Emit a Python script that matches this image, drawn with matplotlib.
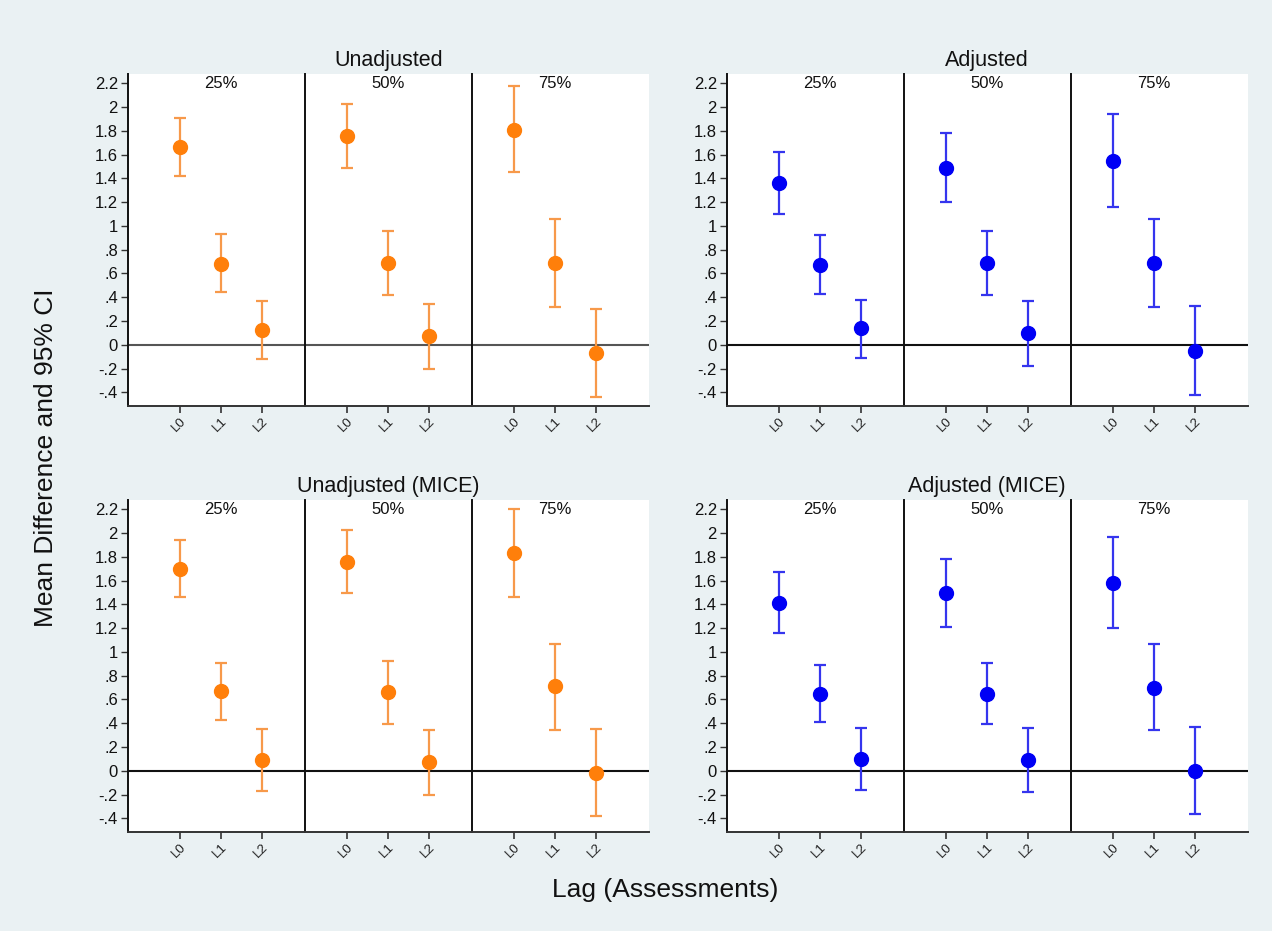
import numpy as np
import matplotlib
matplotlib.use("Agg")
import matplotlib.pyplot as plt

plt.rcParams['font.family'] = ['Liberation Sans', 'DejaVu Sans']

# panel titles, percentiles and lag labels
titles = ['Unadjusted', 'Adjusted', 'Unadjusted (MICE)', 'Adjusted (MICE)']
pcts = ['25%', '50%', '75%']
lags = ['L0', 'L1', 'L2']
yticks = [-0.4, -0.2, 0, 0.2, 0.4, 0.6, 0.8, 1, 1.2, 1.4, 1.6, 1.8, 2, 2.2]
ytick_labels = ['-.4', '-.2', '0', '.2', '.4', '.6', '.8', '1',
                '1.2', '1.4', '1.6', '1.8', '2', '2.2']

# mean difference, lower and upper 95% CI (rows = 25/50/75%, cols = L0/L1/L2)
unadj_est = [[1.66, 0.68, 0.12], [1.76, 0.69, 0.07], [1.81, 0.69, -0.07]]
unadj_lo = [[1.42, 0.44, -0.12], [1.49, 0.42, -0.20], [1.45, 0.32, -0.44]]
unadj_hi = [[1.91, 0.93, 0.37], [2.03, 0.96, 0.34], [2.18, 1.06, 0.30]]

adj_est = [[1.36, 0.67, 0.14], [1.49, 0.69, 0.10], [1.55, 0.69, -0.05]]
adj_lo = [[1.10, 0.43, -0.11], [1.20, 0.42, -0.18], [1.16, 0.32, -0.42]]
adj_hi = [[1.62, 0.92, 0.38], [1.78, 0.96, 0.37], [1.94, 1.06, 0.33]]

unadj_mice_est = [[1.70, 0.67, 0.09], [1.76, 0.66, 0.07], [1.83, 0.71, -0.02]]
unadj_mice_lo = [[1.46, 0.43, -0.17], [1.50, 0.39, -0.20], [1.46, 0.34, -0.38]]
unadj_mice_hi = [[1.94, 0.91, 0.35], [2.03, 0.92, 0.34], [2.20, 1.07, 0.35]]

adj_mice_est = [[1.41, 0.65, 0.10], [1.50, 0.65, 0.09], [1.58, 0.70, 0.00]]
adj_mice_lo = [[1.16, 0.41, -0.16], [1.21, 0.39, -0.18], [1.20, 0.34, -0.36]]
adj_mice_hi = [[1.67, 0.89, 0.36], [1.78, 0.91, 0.36], [1.97, 1.07, 0.37]]

panels = [(unadj_est, unadj_lo, unadj_hi),
          (adj_est, adj_lo, adj_hi),
          (unadj_mice_est, unadj_mice_lo, unadj_mice_hi),
          (adj_mice_est, adj_mice_lo, adj_mice_hi)]
dot_colors = ['#FF7F0A', '#0000F5', '#FF7F0A', '#0000F5']
bar_colors = ['#F7994A', '#3535EE', '#F7994A', '#3535EE']
zero_colors = ['#555555', '#111111', '#111111', '#111111']

W, H = 1272, 931
bg = '#EAF1F3'
fig = plt.figure(figsize=(W / 100, H / 100), dpi=100, facecolor=bg)

# pixel layout of each quadrant: left edge, top, bottom
quad_left = [127.7, 726.7, 127.7, 726.7]
quad_top = [74.3, 74.3, 500.3, 500.3]
quad_bot = [405.7, 405.7, 831.7, 831.7]
sub_w = 167.0   # data region of one percentile panel
pad = 10.0      # extra white at the outer sides
x = np.arange(3)

for q in range(4):
    est, lo, hi = panels[q]
    left = quad_left[q]
    top, bot = quad_top[q], quad_bot[q]
    for s in range(3):
        # pixel extent of this sub panel
        x0 = left + (0 if s == 0 else pad + s * sub_w)
        x1 = left + pad + (s + 1) * sub_w + (pad if s == 2 else 0)
        ax = fig.add_axes([x0 / W, 1 - bot / H, (x1 - x0) / W, (bot - top) / H])
        ax.set_facecolor('white')
        xl, xr = -1.03, 3.03
        if s == 0:
            xl -= pad / 41.3
        if s == 2:
            xr += pad / 41.3
        ax.set_xlim(xl, xr)
        ax.set_ylim(-0.513, 2.276)

        e = np.array(est[s])
        yerr = [e - np.array(lo[s]), np.array(hi[s]) - e]
        ax.axhline(0, color=zero_colors[q], lw=1.5, zorder=1)
        ax.errorbar(x, e, yerr=yerr, fmt='none', ecolor=bar_colors[q],
                    elinewidth=1.6, capsize=4.5, capthick=1.6, zorder=2)
        ax.plot(x, e, 'o', color=dot_colors[q], markersize=10, zorder=3)

        ax.text(1, 2.2, pcts[s], ha='center', va='center', fontsize=12,
                color='#111111')

        for side in ['top', 'right']:
            ax.spines[side].set_visible(False)
        ax.spines['bottom'].set_color('#333333')
        ax.spines['bottom'].set_linewidth(1.4)
        ax.spines['left'].set_color('#111111')
        ax.spines['left'].set_linewidth(1.4)

        ax.set_xticks(x)
        ax.set_xticklabels(lags, rotation=45, ha='right', rotation_mode='anchor',
                           fontsize=9.5, color='#222222')
        ax.tick_params(axis='x', length=5, width=1.2, color='#333333', pad=2)

        if s == 0:
            ax.set_yticks(yticks)
            ax.set_yticklabels(ytick_labels, fontsize=12, color='#111111')
            ax.tick_params(axis='y', length=5, width=1.0, color='#333333', pad=2)
        else:
            ax.set_yticks([])

    mid = (left + left + 2 * pad + 3 * sub_w) / 2
    fig.text(mid / W, 1 - (top - 14) / H, titles[q], ha='center', va='center',
             fontsize=15.5, color='#111111')

fig.text(46 / W, 1 - 458 / H, 'Mean Difference and 95% CI', rotation=90,
         ha='center', va='center', fontsize=19, color='#111111')
fig.text(665 / W, 1 - 890 / H, 'Lag (Assessments)', ha='center', va='center',
         fontsize=19, color='#111111')

fig.savefig('out.png', dpi=100, facecolor=bg)
